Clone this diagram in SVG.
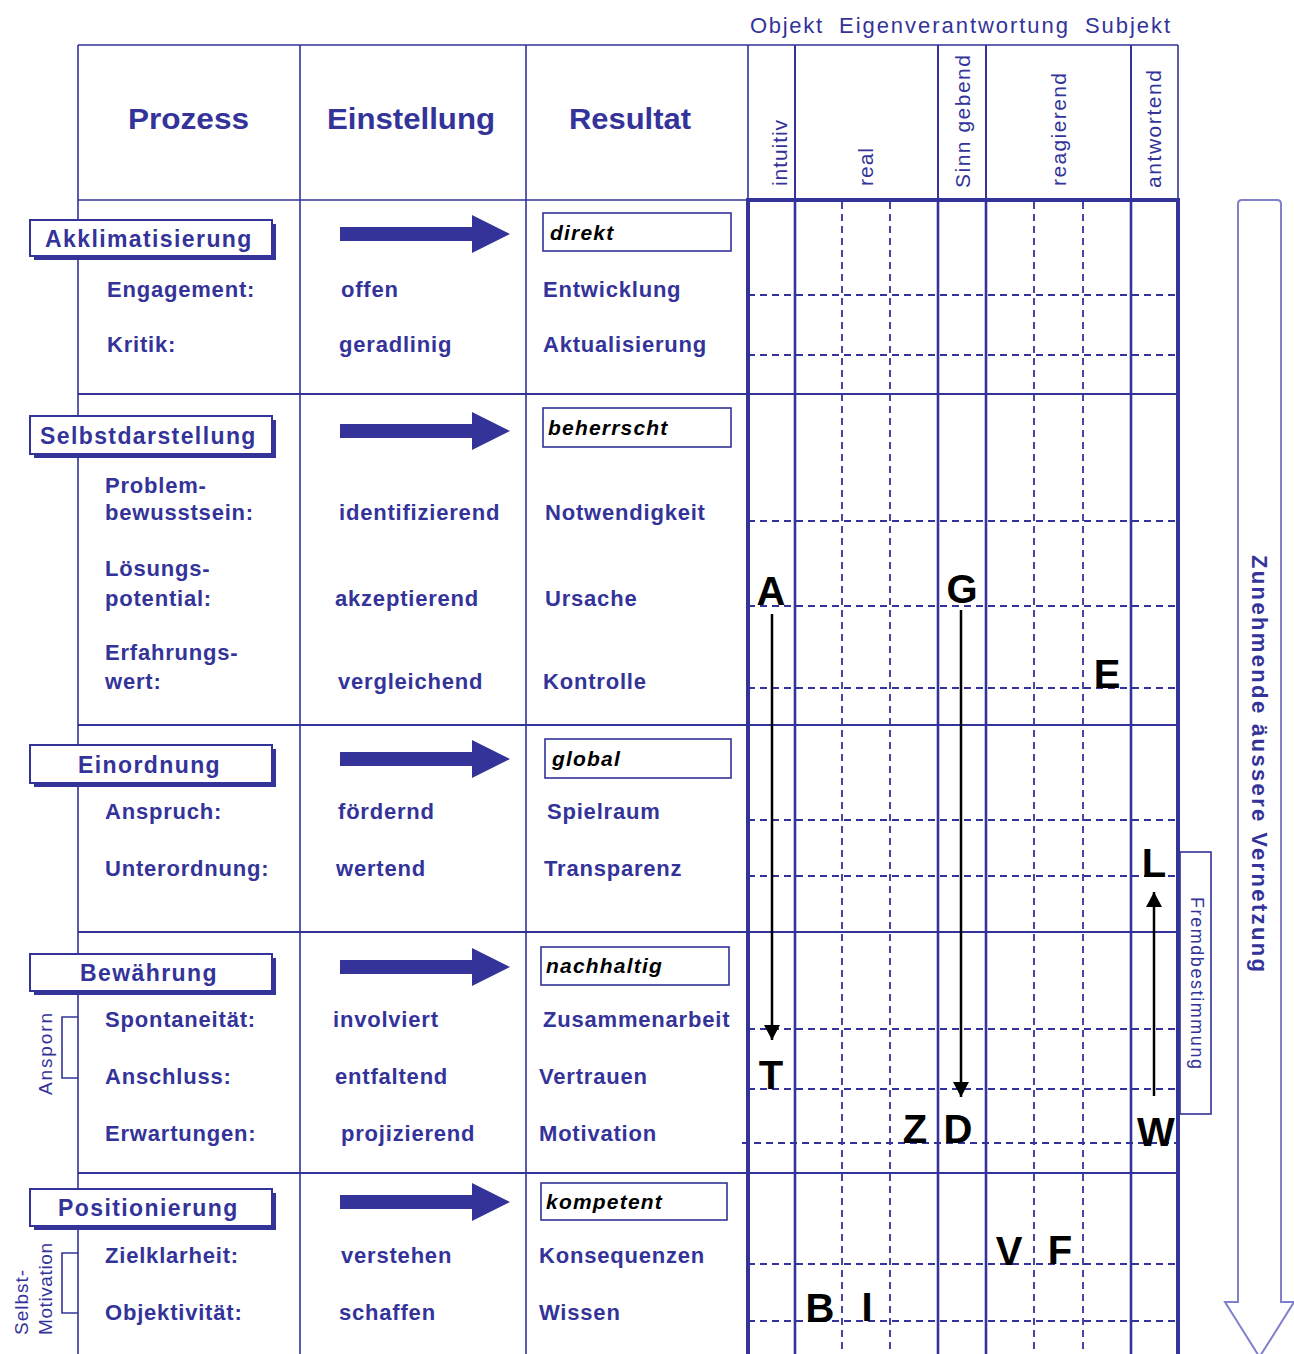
<svg xmlns="http://www.w3.org/2000/svg" width="1294" height="1354" viewBox="0 0 1294 1354">
<style>
text{font-family:"Liberation Sans",Arial,sans-serif;}
.ln{stroke:#333399;stroke-width:1.6;fill:none;}
.gs{stroke:#333399;stroke-width:2.6;fill:none;}
.gt{stroke:#333399;stroke-width:4;fill:none;}
.gd{stroke:#333399;stroke-width:1.8;fill:none;stroke-dasharray:7 5;}
.top{font-size:22px;fill:#333399;}
.hd{font-size:30px;font-weight:bold;fill:#333399;}
.vl{font-size:21px;fill:#333399;}
.bx{fill:#fff;stroke:#333399;stroke-width:2;}
.sh{fill:#333399;}
.bl{font-size:23px;font-weight:bold;fill:#333399;letter-spacing:1.4px;}
.t{font-size:22px;font-weight:bold;fill:#333399;letter-spacing:0.8px;}
.rb{fill:#fff;stroke:#333399;stroke-width:1.6;}
.it{font-size:21px;font-weight:bold;font-style:italic;fill:#000;letter-spacing:1.2px;}
.ba{fill:#333399;}
.lt{font-size:40px;font-weight:bold;fill:#000;text-anchor:middle;}
.cn{stroke:#000;stroke-width:2.5;fill:none;}
.side{font-size:19px;fill:#333399;}
</style>
<defs>
<marker id="ah" markerUnits="userSpaceOnUse" markerWidth="16" markerHeight="16" refX="15" refY="8" orient="auto">
<path d="M0,0 L15,8 L0,16 Z" fill="#000"/>
</marker>
<path id="barrow" d="M340,-7 H472 V-19 L510,0 L472,19 V7 H340 Z"/>
</defs>

<g id="header-top">
<text class="top" x="750" y="33" textLength="72" lengthAdjust="spacing">Objekt</text>
<text class="top" x="839" y="33" textLength="229" lengthAdjust="spacing">Eigenverantwortung</text>
<text class="top" x="1085" y="33" textLength="85" lengthAdjust="spacing">Subjekt</text>
</g>

<g id="grid">
<path class="gd" d="M842,202 V1354 M890,202 V1354 M1034,202 V1354 M1083,202 V1354"/>
<path class="gd" d="M748,295 H1178 M748,355 H1178 M748,521 H1178 M748,606 H1178 M748,688 H1178 M748,820 H1178 M748,876 H1178 M748,1029 H1178 M748,1089 H1178 M742,1143 H1178 M748,1264 H1178 M748,1321 H1178"/>
<path class="ln" d="M78,45 H1178 M78,45 V1354 M300,45 V1354 M526,45 V1354 M748,45 V200 M78,200 H748 M1178,45 V200"/>
<path class="ln" d="M78,394 H1178 M78,725 H1178 M78,932 H1178 M78,1173 H1178" style="stroke-width:1.8"/>
<path class="ln" d="M795,45 V200 M938,45 V200 M986,45 V200 M1131,45 V200" style="stroke-width:2"/>
<path class="gs" d="M795,200 V1354 M938,200 V1354 M986,200 V1354 M1131,200 V1354"/>
<path class="gt" d="M748,200 V1354 M1178,200 V1354 M746,200 H1180"/>
</g>

<g id="header-columns">
<text class="hd" x="128" y="129" textLength="121" lengthAdjust="spacingAndGlyphs">Prozess</text>
<text class="hd" x="327" y="129" textLength="168" lengthAdjust="spacingAndGlyphs">Einstellung</text>
<text class="hd" x="569" y="129" textLength="122" lengthAdjust="spacingAndGlyphs">Resultat</text>
<text class="vl" transform="translate(787,186) rotate(-90)" textLength="66" lengthAdjust="spacing">intuitiv</text>
<text class="vl" transform="translate(873,186) rotate(-90)" textLength="38" lengthAdjust="spacing">real</text>
<text class="vl" transform="translate(970,188) rotate(-90)" textLength="133" lengthAdjust="spacing">Sinn gebend</text>
<text class="vl" transform="translate(1066,186) rotate(-90)" textLength="113" lengthAdjust="spacing">reagierend</text>
<text class="vl" transform="translate(1161,188) rotate(-90)" textLength="118" lengthAdjust="spacing">antwortend</text>
</g>

<g id="section-akklimatisierung">
<rect class="sh" x="34" y="224" width="242" height="36"/>
<rect class="bx" x="30" y="220" width="242" height="36"/>
<text class="bl" x="45" y="247">Akklimatisierung</text>
<text class="t" x="107" y="297">Engagement:</text>
<text class="t" x="107" y="352">Kritik:</text>
<text class="t" x="341" y="297">offen</text>
<text class="t" x="339" y="352">geradlinig</text>
<rect class="rb" x="543" y="213" width="188" height="38"/>
<text class="it" x="550" y="240">direkt</text>
<text class="t" x="543" y="297">Entwicklung</text>
<text class="t" x="543" y="352">Aktualisierung</text>
</g>

<g id="section-selbstdarstellung">
<rect class="sh" x="34" y="420" width="242" height="38"/>
<rect class="bx" x="30" y="416" width="242" height="38"/>
<text class="bl" x="40" y="444">Selbstdarstellung</text>
<text class="t" x="105" y="493">Problem-</text>
<text class="t" x="105" y="520">bewusstsein:</text>
<text class="t" x="105" y="576">Lösungs-</text>
<text class="t" x="105" y="606">potential:</text>
<text class="t" x="105" y="660">Erfahrungs-</text>
<text class="t" x="105" y="689">wert:</text>
<text class="t" x="339" y="520">identifizierend</text>
<text class="t" x="335" y="606">akzeptierend</text>
<text class="t" x="338" y="689">vergleichend</text>
<rect class="rb" x="543" y="408" width="188" height="39"/>
<text class="it" x="548" y="435">beherrscht</text>
<text class="t" x="545" y="520">Notwendigkeit</text>
<text class="t" x="545" y="606">Ursache</text>
<text class="t" x="543" y="689">Kontrolle</text>
</g>

<g id="section-einordnung">
<rect class="sh" x="34" y="749" width="242" height="38"/>
<rect class="bx" x="30" y="745" width="242" height="38"/>
<text class="bl" x="78" y="773">Einordnung</text>
<text class="t" x="105" y="819">Anspruch:</text>
<text class="t" x="105" y="876">Unterordnung:</text>
<text class="t" x="338" y="819">fördernd</text>
<text class="t" x="336" y="876">wertend</text>
<rect class="rb" x="545" y="739" width="186" height="39"/>
<text class="it" x="552" y="766">global</text>
<text class="t" x="547" y="819">Spielraum</text>
<text class="t" x="544" y="876">Transparenz</text>
</g>

<g id="section-bewaehrung">
<rect class="sh" x="34" y="958" width="242" height="37"/>
<rect class="bx" x="30" y="954" width="242" height="37"/>
<text class="bl" x="80" y="981">Bewährung</text>
<text class="t" x="105" y="1027">Spontaneität:</text>
<text class="t" x="105" y="1084">Anschluss:</text>
<text class="t" x="105" y="1141">Erwartungen:</text>
<text class="t" x="333" y="1027">involviert</text>
<text class="t" x="335" y="1084">entfaltend</text>
<text class="t" x="341" y="1141">projizierend</text>
<rect class="rb" x="541" y="947" width="188" height="38"/>
<text class="it" x="546" y="973">nachhaltig</text>
<text class="t" x="543" y="1027">Zusammenarbeit</text>
<text class="t" x="539" y="1084">Vertrauen</text>
<text class="t" x="539" y="1141">Motivation</text>
</g>

<g id="section-positionierung">
<rect class="sh" x="34" y="1193" width="242" height="37"/>
<rect class="bx" x="30" y="1189" width="242" height="37"/>
<text class="bl" x="58" y="1216">Positionierung</text>
<text class="t" x="105" y="1263">Zielklarheit:</text>
<text class="t" x="105" y="1320">Objektivität:</text>
<text class="t" x="341" y="1263">verstehen</text>
<text class="t" x="339" y="1320">schaffen</text>
<rect class="rb" x="541" y="1183" width="186" height="37"/>
<text class="it" x="546" y="1209">kompetent</text>
<text class="t" x="539" y="1263">Konsequenzen</text>
<text class="t" x="539" y="1320">Wissen</text>
</g>

<g id="einstellung-arrows" class="ba">
<use href="#barrow" y="234"/>
<use href="#barrow" y="431"/>
<use href="#barrow" y="759"/>
<use href="#barrow" y="967"/>
<use href="#barrow" y="1202"/>
</g>

<g id="side-labels">
<path class="ln" d="M78,1017 H62 V1078 H78"/>
<text class="side" transform="translate(52,1095) rotate(-90)" textLength="82" lengthAdjust="spacing">Ansporn</text>
<path class="ln" d="M78,1253 H62 V1313 H78"/>
<text class="side" transform="translate(28,1335) rotate(-90)" textLength="65" lengthAdjust="spacing">Selbst-</text>
<text class="side" transform="translate(52,1335) rotate(-90)" textLength="92" lengthAdjust="spacing">Motivation</text>
</g>

<g id="fremdbestimmung">
<rect x="1180" y="852" width="31" height="262" fill="none" stroke="#333399" stroke-width="1.6"/>
<text transform="translate(1191,897) rotate(90)" style="font-size:18px;fill:#333399" textLength="172" lengthAdjust="spacing">Fremdbestimmung</text>
</g>

<g id="vernetzung-arrow">
<path d="M1238,204 Q1238,200 1242,200 H1277 Q1281,200 1281,204 V1302 H1294 L1259.5,1357 L1225,1302 H1238 Z" fill="none" stroke="#8080cc" stroke-width="2"/>
<text transform="translate(1252,555) rotate(90)" style="font-size:22px;font-weight:bold;fill:#333399" textLength="417" lengthAdjust="spacing">Zunehmende äussere Vernetzung</text>
</g>

<g id="letters">
<text class="lt" x="771" y="605">A</text>
<text class="lt" x="962" y="603">G</text>
<text class="lt" x="1107" y="688">E</text>
<text class="lt" x="771" y="1089">T</text>
<text class="lt" x="915" y="1143">Z</text>
<text class="lt" x="958" y="1143">D</text>
<text class="lt" x="1156" y="1146">W</text>
<text class="lt" x="1154" y="877">L</text>
<text class="lt" x="1009" y="1265">V</text>
<text class="lt" x="1060" y="1264">F</text>
<text class="lt" x="820" y="1322">B</text>
<text class="lt" x="867" y="1321">I</text>
</g>

<g id="connectors">
<path class="cn" d="M772,614 V1040" marker-end="url(#ah)"/>
<path class="cn" d="M961,610 V1097" marker-end="url(#ah)"/>
<path class="cn" d="M1154,1096 V892" marker-end="url(#ah)"/>
</g>
</svg>
